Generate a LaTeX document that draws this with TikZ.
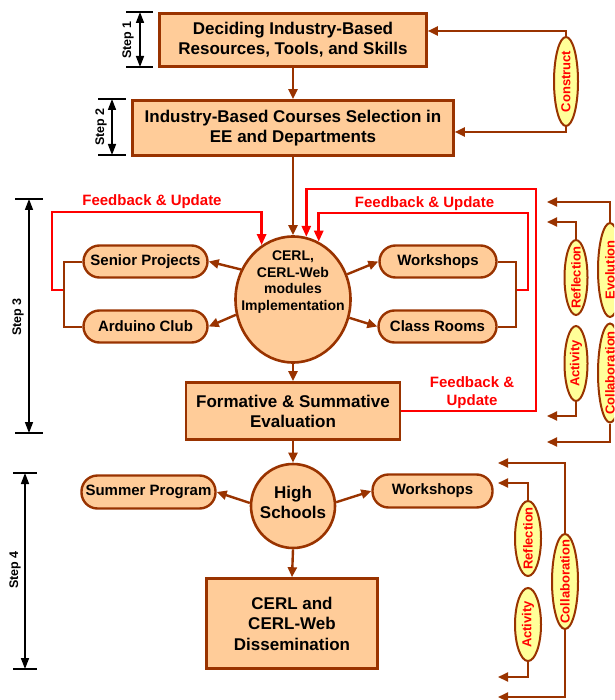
\documentclass[tikz,border=0pt]{standalone}
\usepackage{fontspec}
\setmainfont{Liberation Sans}
\usetikzlibrary{arrows.meta,shapes.geometric}
\definecolor{bbrown}{HTML}{993300}
\definecolor{peach}{HTML}{FFCC99}
\definecolor{lyellow}{HTML}{FFFF99}
\definecolor{fred}{HTML}{FF0000}
\newcommand{\uprot}[1]{\rotatebox{90}{\makebox[0pt]{#1}}}
\tikzset{
  mainbox/.style={draw=bbrown, fill=peach, line width=2.6pt, inner sep=0pt, align=center, font=\bfseries\fontsize{17}{20}\selectfont},
  pill/.style={draw=bbrown, fill=peach, line width=2.4pt, rounded corners=16pt, inner sep=0pt, align=center, minimum height=32pt, font=\bfseries\fontsize{15}{18}\selectfont},
  oval/.style={ellipse, draw=bbrown, fill=peach, line width=2.6pt, inner sep=0pt},
  ovaltext/.style={align=center, inner sep=0pt},
  yel/.style={ellipse, draw=bbrown, fill=lyellow, line width=2pt, inner sep=0pt, text=fred, font=\bfseries\fontsize{13}{15}\selectfont},
  arr/.style={draw=bbrown, line width=2.4pt, -{Triangle[length=10pt,width=9pt]}},
  thinarr/.style={draw=bbrown, line width=2pt, -{Triangle[length=10pt,width=9pt]}},
  bracket/.style={draw=bbrown, line width=2pt},
  fb/.style={draw=fred, line width=2.6pt, -{Triangle[length=11pt,width=9pt]}},
  fbtext/.style={text=fred, font=\bfseries\fontsize{15}{18}\selectfont, align=center, inner sep=0pt},
  dimline/.style={draw=black, line width=1.6pt, {Triangle[length=11pt,width=8pt]}-{Triangle[length=11pt,width=8pt]}},
  dimtick/.style={draw=black, line width=2pt},
  steplabel/.style={font=\bfseries\fontsize{12.5}{14}\selectfont, rotate=90, inner sep=0pt},
}
\begin{document}
\begin{tikzpicture}[x=1pt,y=-1pt]
\clip (0,0) rectangle (614,700);

% main boxes
\node[mainbox, minimum width=267pt, minimum height=53pt] (b1) at (293,40) {Deciding Industry-Based\\Resources, Tools, and Skills};
\node[mainbox, minimum width=321pt, minimum height=55pt] (b2) at (293,128) {Industry-Based Courses Selection in\\EE and Departments};
\node[oval, minimum width=115pt, minimum height=126pt] (cerl) at (293,299.5) {};
\node[ovaltext, font=\bfseries\fontsize{14}{16.7}\selectfont] (cerltxt) at ([yshift=17.5pt]cerl.center) {CERL,\\CERL-Web\\modules\\Implementation};
\node[mainbox, minimum width=214pt, minimum height=57pt] (form) at (293,411) {Formative \& Summative\\Evaluation};
\node[oval, minimum width=84pt, minimum height=84pt] (hs) at (293,506) {};
\node[ovaltext, font=\bfseries\fontsize{17}{20}\selectfont] (hstxt) at ([yshift=4pt]hs.center) {High\\Schools};
\node[mainbox, minimum width=171pt, minimum height=90pt, font=\bfseries\fontsize{17}{20.5}\selectfont] (dis) at (292,623.5) {CERL and\\CERL-Web\\Dissemination};

% pills
\node[pill, minimum width=124pt] (sp) at (145.5,261.5) {Senior Projects};
\node[pill, minimum width=124pt] (ac) at (145.5,326.5) {Arduino Club};
\node[pill, minimum width=117pt] (ws3) at (438,261.5) {Workshops};
\node[pill, minimum width=118pt] (cr) at (437.5,326.5) {Class Rooms};
\node[pill, minimum width=134pt, minimum height=33pt] (sum) at (148.5,492) {Summer Program};
\node[pill, minimum width=120pt, minimum height=33pt] (ws4) at (432.5,491) {Workshops};

% yellow ellipses
\node[yel, minimum width=24pt, minimum height=89pt] (con) at (566,81.5) {\uprot{Construct}};
\node[yel, minimum width=24pt, minimum height=94pt] (evo) at (610,270) {\uprot{Evolution}};
\node[yel, minimum width=23pt, minimum height=75pt] (ref3) at (576,277.5) {\uprot{Reflection}};
\node[yel, minimum width=23pt, minimum height=75pt] (act3) at (576,363.5) {\uprot{Activity}};
\node[yel, minimum width=24pt, minimum height=99pt] (col3) at (610,373) {\uprot{Collaboration}};
\node[yel, minimum width=26pt, minimum height=75pt] (ref4) at (528,538.5) {\uprot{Reflection}};
\node[yel, minimum width=26pt, minimum height=73pt] (act4) at (528,624.5) {\uprot{Activity}};
\node[yel, minimum width=26pt, minimum height=95pt] (col4) at (565,581.5) {\uprot{Collaboration}};

% main flow arrows
\draw[arr] (b1.south) -- (b2.north);
\draw[arr] (b2.south) -- (cerl.north);
\draw[arr] (cerl.south) -- (form.north);
\draw[arr] (form.south) -- (hs.north);
\draw[arr] (hs.south) -- (dis.north);
\draw[arr] (cerl.150) -- (sp.east);
\draw[arr] (cerl.195) -- (ac.east);
\draw[arr] (cerl.25) -- (ws3.west);
\draw[arr] (cerl.342) -- (cr.west);
\draw[arr] (hs.176) -- (sum.east);
\draw[arr] (hs.5) -- (ws4.west);

% feedback loops
\coordinate (lj) at (64,290);
\coordinate (lfb) at (52,212);
\draw[fb] (lj) -| (lfb) -| (cerl.120);
\draw[bracket] (sp.west) -| (lj) |- (ac.west);
\coordinate (rj) at (516,290);
\coordinate (rfb) at (528,213);
\draw[fb] (rj) -| (rfb) -| (cerl.66);
\draw[bracket] (ws3.east) -| (rj) |- (cr.east);
\coordinate (ofb) at (536,189);
\draw[fb] (form.east) -| (ofb) -| (cerl.78);
\node[fbtext] (fbl) at (152,202) {Feedback \& Update};
\node[fbtext] (fbr) at (424.5,204) {Feedback \& Update};
\node[fbtext] (fbb) at (472,393) {Feedback \&\\Update};

% construct
\draw[thinarr] (con.north) |- ([yshift=9pt]b1.east);
\draw[thinarr] (con.south) |- ([yshift=-4pt]b2.east);

% right side, step 3
\coordinate (e1) at (547,202);
\coordinate (e2) at (547,222);
\coordinate (e3) at (547,416);
\coordinate (e4) at (547,442);
\draw[thinarr] (evo.north) |- (e1);
\draw[thinarr] (ref3.north) |- (e2);
\draw[thinarr] (act3.south) |- (e3);
\draw[thinarr] (col3.south) |- (e4);

% right side, step 4
\coordinate (f1) at (498,463);
\coordinate (f2) at (498,483);
\coordinate (f3) at (498,677);
\coordinate (f4) at (498,697);
\draw[thinarr] (col4.north) |- (f1);
\draw[thinarr] (ref4.north) |- (f2);
\draw[thinarr] (act4.south) |- (f3);
\draw[thinarr] (col4.south) |- (f4);

% step dimensions
\coordinate (s1a) at (140,12); \coordinate (s1b) at (140,67);
\draw[dimline] (s1a) -- (s1b);
\draw[dimtick] ([xshift=-14pt]s1a) -- ([xshift=13pt]s1a);
\draw[dimtick] ([xshift=-14pt]s1b) -- ([xshift=13pt]s1b);
\node[steplabel] (st1) at (128,40) {Step 1};

\coordinate (s2a) at (112,99); \coordinate (s2b) at (112,155);
\draw[dimline] (s2a) -- (s2b);
\draw[dimtick] ([xshift=-14pt]s2a) -- ([xshift=14pt]s2a);
\draw[dimtick] ([xshift=-14pt]s2b) -- ([xshift=14pt]s2b);
\node[steplabel] (st2) at (101,127) {Step 2};

\coordinate (s3a) at (29,199); \coordinate (s3b) at (29,433);
\draw[dimline] (s3a) -- (s3b);
\draw[dimtick] ([xshift=-14pt]s3a) -- ([xshift=14pt]s3a);
\draw[dimtick] ([xshift=-14pt]s3b) -- ([xshift=14pt]s3b);
\node[steplabel] (st3) at (18,317) {Step 3};

\coordinate (s4a) at (25,473); \coordinate (s4b) at (25,669);
\draw[dimline] (s4a) -- (s4b);
\draw[dimtick] ([xshift=-12pt]s4a) -- ([xshift=12pt]s4a);
\draw[dimtick] ([xshift=-12pt]s4b) -- ([xshift=12pt]s4b);
\node[steplabel] (st4) at (15,570) {Step 4};
\end{tikzpicture}
\end{document}
